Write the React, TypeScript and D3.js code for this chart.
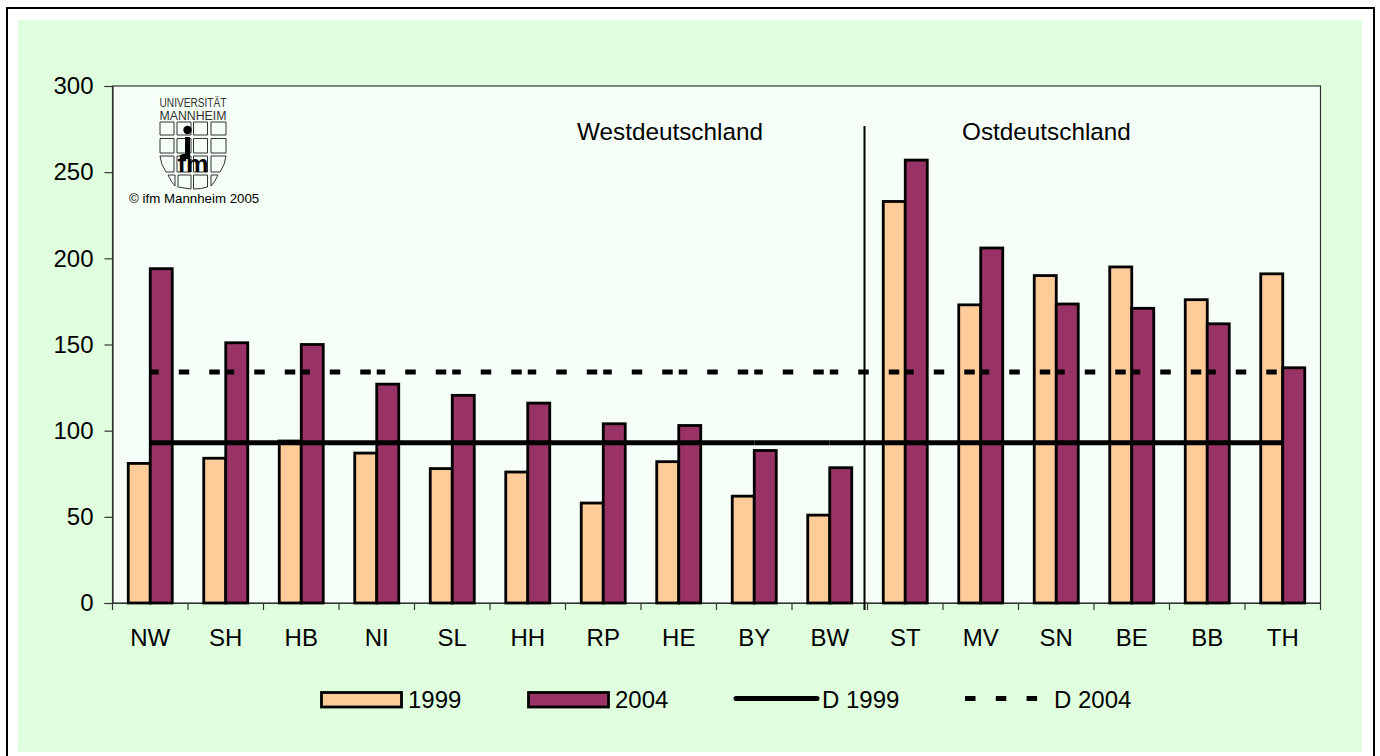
import React, { useEffect, useRef } from 'react';
import * as d3 from 'd3';

const laender = ['NW', 'SH', 'HB', 'NI', 'SL', 'HH', 'RP', 'HE', 'BY', 'BW', 'ST', 'MV', 'SN', 'BE', 'BB', 'TH'];
const werte1999 = [81, 84, 94, 87, 78, 76, 58, 82, 62, 51, 233, 173, 190, 195, 176, 191];
const werte2004 = [194, 151, 150, 127, 120.5, 116, 104, 103, 88.5, 78.5, 257, 206, 173.5, 171, 162, 136.5];
const d1999 = laender.map(() => 93);
const d2004 = laender.map(() => 134);
const yTicks = [0, 50, 100, 150, 200, 250, 300];
const jahre = ['1999', '2004'];
const farben = ['#FFCC99', '#993366'];

const FONT = '"Liberation Sans", Arial, sans-serif';

const App = () => {
  const svgRef = useRef<SVGSVGElement>(null);

  useEffect(() => {
    const svg = d3.select(svgRef.current);
    svg.selectAll('*').remove();

    const plot = { left: 112.5, right: 1320.5, top: 86, bottom: 603 };

    // frame and backgrounds
    svg.append('rect').attr('width', 1380).attr('height', 756).attr('fill', '#fff');
    svg.append('rect').attr('x', 7).attr('y', 8).attr('width', 1367).attr('height', 760)
      .attr('fill', '#fff').attr('stroke', '#000').attr('stroke-width', 2);
    svg.append('rect').attr('x', 18).attr('y', 20).attr('width', 1344).attr('height', 731.5).attr('fill', '#DFFFDF');
    svg.append('rect').attr('x', plot.left).attr('y', plot.top)
      .attr('width', plot.right - plot.left).attr('height', plot.bottom - plot.top)
      .attr('fill', '#F5FFF7').attr('stroke', '#333').attr('stroke-width', 1.2);

    const x = d3.scaleBand().domain(laender).range([plot.left, plot.right]);
    const inner = d3.scaleBand().domain(jahre).range([0, x.bandwidth()]).paddingInner(0).paddingOuter(0.716);
    const y = d3.scaleLinear().domain([0, 300]).range([plot.bottom, plot.top]);

    // axes
    const yAxis = svg.append('g').attr('transform', `translate(${plot.left},0)`)
      .call(d3.axisLeft(y).tickValues(yTicks).tickSize(8).tickPadding(11));
    const xAxis = svg.append('g').attr('transform', `translate(0,${plot.bottom})`)
      .call(d3.axisBottom(x).tickSize(0).tickPadding(26));
    [yAxis, xAxis].forEach(a => {
      a.select('.domain').attr('stroke', '#333').attr('stroke-width', 1.2);
      a.selectAll('line').attr('stroke', '#333').attr('stroke-width', 1.2);
      a.selectAll('text').attr('font-family', FONT).attr('font-size', 24).attr('fill', '#000');
    });
    // ticks sit between the categories
    svg.append('g').selectAll('line')
      .data([...laender.map(d => x(d)!), plot.right])
      .enter().append('line')
      .attr('x1', d => d).attr('x2', d => d)
      .attr('y1', plot.bottom).attr('y2', plot.bottom + 7)
      .attr('stroke', '#333').attr('stroke-width', 1.2);

    // bars
    [werte1999, werte2004].forEach((werte, s) => {
      svg.append('g').selectAll('rect')
        .data(werte)
        .enter().append('rect')
        .attr('x', (d, i) => x(laender[i])! + inner(jahre[s])!)
        .attr('y', d => y(d))
        .attr('width', inner.bandwidth())
        .attr('height', d => y(0) - y(d))
        .attr('fill', farben[s])
        .attr('stroke', '#000')
        .attr('stroke-width', 2.8);
    });

    // mean lines, each segment restarts the dash pattern
    const center = (d: string) => x(d)! + x.bandwidth() / 2;
    const linie = (reihe: number[], dash: string | null, width: number) => {
      svg.append('g').selectAll('line')
        .data(d3.pairs(reihe.map((v, i) => [center(laender[i]), y(v)])))
        .enter().append('line')
        .attr('x1', d => d[0][0]).attr('y1', d => d[0][1])
        .attr('x2', d => d[1][0]).attr('y2', d => d[1][1])
        .attr('stroke', '#000')
        .attr('stroke-width', width)
        .attr('stroke-dasharray', dash)
        .attr('stroke-dashoffset', dash ? 2 : null);
    };
    linie(d1999, null, 5);
    linie(d2004, '10.5 20', 5);

    // west/east divider
    svg.append('line').attr('x1', 864.5).attr('x2', 864.5).attr('y1', 126).attr('y2', 610)
      .attr('stroke', '#000').attr('stroke-width', 2);

    const label = (txt: string, tx: number, ty: number, size = 24) =>
      svg.append('text').attr('x', tx).attr('y', ty).attr('font-family', FONT)
        .attr('font-size', size).attr('fill', '#000').text(txt);

    label('Westdeutschland', 577, 140, 24.3);
    label('Ostdeutschland', 962, 140, 24.3);

    // legend
    const swatchX = [321.5, 528.5];
    jahre.forEach((j, i) => {
      svg.append('rect').attr('x', swatchX[i]).attr('y', 692.5).attr('width', 80).attr('height', 14.5)
        .attr('fill', farben[i]).attr('stroke', '#000').attr('stroke-width', 2.8);
      label(j, swatchX[i] + 86.5, 708);
    });
    svg.append('line').attr('x1', 736).attr('x2', 817).attr('y1', 698.5).attr('y2', 698.5)
      .attr('stroke', '#000').attr('stroke-width', 5).attr('stroke-linecap', 'round');
    label('D 1999', 822, 708);
    svg.append('line').attr('x1', 965).attr('x2', 1038).attr('y1', 698.5).attr('y2', 698.5)
      .attr('stroke', '#000').attr('stroke-width', 5).attr('stroke-dasharray', '10.5 20.3');
    label('D 2004', 1054, 708);

    // logo
    const logo = svg.append('g');
    const logoText = (t: string, ty: number) =>
      logo.append('text').attr('x', 193).attr('y', ty).attr('text-anchor', 'middle')
        .attr('font-family', FONT).attr('font-size', 12.5)
        .attr('textLength', 67).attr('lengthAdjust', 'spacingAndGlyphs')
        .attr('fill', '#333').text(t);
    logoText('UNIVERSITÄT', 107);
    logoText('MANNHEIM', 119.5);

    const spalten = [[160, 174], [177, 191], [193.5, 207.5], [211, 226]];
    const kachel = (dPath: string) =>
      logo.append('path').attr('d', dPath).attr('fill', 'none').attr('stroke', '#333').attr('stroke-width', 1);
    [[122, 135], [138.5, 153]].forEach(([t, b]) =>
      spalten.forEach(([l, r]) => kachel(`M${l},${t}H${r}V${b}H${l}Z`)));
    // curved rows of the shield
    kachel('M160,156H174V172H166Q161,165 160,156Z');
    kachel('M177,156H191V172H177Z');
    kachel('M193.5,156H207.5V172H193.5Z');
    kachel('M211,156H226Q225,165 220,172H211Z');
    kachel('M168,175H175V186Q171,182 168,175Z');
    kachel('M178,175H191V189Q184,188 178,187Z');
    kachel('M193.5,175H207.5V187Q201,189 193.5,189Z');
    kachel('M211,175H218Q215,182 211,186Z');
    logo.append('circle').attr('cx', 187.5).attr('cy', 130).attr('r', 4.2).attr('fill', '#000');
    logo.append('path').attr('d', 'M185,137H190V159H180V155H185Z').attr('fill', '#000');
    logo.append('text').attr('x', 193).attr('y', 171.5).attr('text-anchor', 'middle')
      .attr('font-family', FONT).attr('font-size', 23).attr('font-weight', 700)
      .attr('textLength', 31).attr('lengthAdjust', 'spacingAndGlyphs').attr('fill', '#000').text('fm');
    label('© ifm Mannheim 2005', 129, 203, 13.3);
  }, []);

  return (
    <svg ref={svgRef} width={1380} height={756}
      style={{ position: 'absolute', left: 0, top: 0, display: 'block' }} />
  );
};

export default App;
